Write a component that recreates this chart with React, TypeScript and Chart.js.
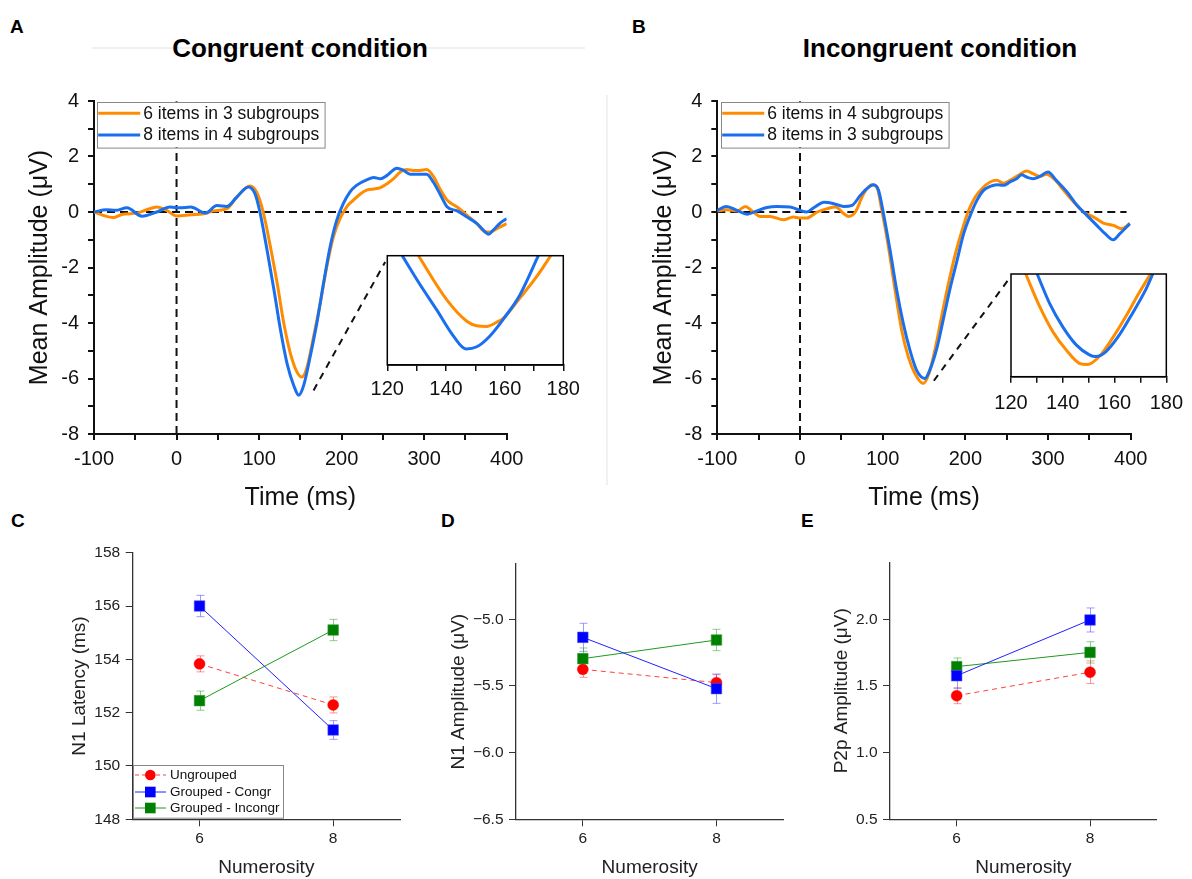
import React, { useEffect, useRef } from 'react';
import { Chart, registerables } from 'chart.js';

Chart.register(...registerables);

const FONT = "'Liberation Sans', Arial, Helvetica, sans-serif";
Chart.defaults.font.family = FONT;

const ORANGE = '#FF8C00';
const BLUE = '#1A6FEF';

// ---------- Panel A: Congruent condition ----------
const A_LABELS = ['6 items in 3 subgroups', '8 items in 4 subgroups'];
const A_T_ORANGE = [-100, -89, -77, -65, -48, -36, -24, -12, 0, 17, 33, 45, 61, 73, 89, 97, 105, 113, 122, 130, 138, 146, 152, 158, 166, 174, 182, 190, 198, 206, 214, 223, 231, 239, 247, 255, 263, 271, 279, 287, 295, 303, 311, 319, 328, 340, 352, 364, 374, 380, 388, 400];
const A_V_ORANGE = [0, -0.12, -0.2, -0.08, -0.04, 0.08, 0.18, 0.06, -0.14, -0.1, -0.06, 0.04, 0.12, 0.54, 0.94, 0.72, 0, -1.14, -2.58, -4.02, -5.1, -5.77, -5.95, -5.6, -4.5, -3.3, -1.98, -0.9, -0.24, 0.18, 0.42, 0.66, 0.8, 0.83, 0.88, 1.02, 1.2, 1.44, 1.53, 1.5, 1.5, 1.53, 1.29, 0.84, 0.42, 0.18, -0.12, -0.42, -0.72, -0.72, -0.6, -0.42];
const A_T_BLUE = [-100, -85, -74, -60, -42, -24, -8, 4, 17, 35, 49, 61, 73, 87, 95, 101, 109, 118, 126, 134, 142, 148, 154, 162, 170, 178, 186, 194, 202, 210, 218, 231, 239, 247, 255, 267, 275, 283, 291, 303, 311, 319, 328, 340, 352, 364, 374, 378, 384, 392, 400];
const A_V_BLUE = [0, 0.08, 0.06, 0.15, -0.15, 0, 0.18, 0.15, 0.18, -0.04, 0.23, 0.2, 0.54, 0.9, 0.66, 0, -1.26, -2.8, -4.26, -5.47, -6.25, -6.6, -6.25, -5.2, -4.0, -2.58, -1.26, -0.3, 0.3, 0.72, 0.96, 1.17, 1.24, 1.2, 1.32, 1.58, 1.5, 1.36, 1.36, 1.36, 1.08, 0.66, 0.18, 0.04, -0.18, -0.42, -0.72, -0.8, -0.64, -0.4, -0.24];
// inset A (zoom 120-180 ms)
const A_IN_T_ORANGE = [130.6, 140.3, 147.1, 150.5, 153.9, 157.3, 159.6, 165.2, 170.9, 175.7];
const A_IN_V_ORANGE = [-3.9, -5.16, -5.77, -5.9, -5.92, -5.8, -5.68, -5.11, -4.5, -3.9];
const A_IN_T_BLUE = [125.1, 131.2, 136.8, 142.5, 146.8, 150.5, 155.0, 160.1, 165.2, 171.5];
const A_IN_V_BLUE = [-3.9, -4.73, -5.44, -6.19, -6.56, -6.5, -6.19, -5.65, -5.02, -3.9];
const A_IN_Y = [-7.02, -3.9];
const A_CONNECTOR = [{ x: 166, y: -6.43 }, { x: 252.8, y: -1.8 }];

// ---------- Panel B: Incongruent condition ----------
const B_LABELS = ['6 items in 4 subgroups', '8 items in 3 subgroups'];
const B_T_ORANGE = [-100, -89, -76, -66, -58, -48, -36, -20, -8, 0, 8, 21, 33, 43, 53, 59, 67, 77, 87, 93, 99, 107, 115, 123, 131, 139, 149, 156, 164, 172, 180, 188, 196, 204, 212, 220, 230, 238, 246, 254, 264, 274, 282, 290, 298, 307, 319, 331, 343, 355, 367, 379, 389, 399];
const B_V_ORANGE = [0.04, 0.08, 0.04, 0.2, 0.04, -0.16, -0.16, -0.28, -0.18, -0.22, -0.22, 0, 0.12, 0.18, -0.06, -0.16, 0, 0.66, 0.98, 0.9, 0.06, -1.26, -2.82, -4.26, -5.22, -5.82, -6.18, -5.82, -4.86, -3.66, -2.52, -1.5, -0.66, 0.06, 0.54, 0.84, 1.08, 1.14, 1.04, 1.14, 1.32, 1.48, 1.38, 1.28, 1.36, 1.2, 0.78, 0.36, 0, -0.18, -0.4, -0.48, -0.6, -0.42];
const B_T_BLUE = [-100, -89, -76, -64, -52, -40, -28, -12, 0, 8, 17, 29, 41, 53, 63, 73, 81, 89, 95, 101, 109, 117, 125, 133, 141, 151, 157, 166, 174, 182, 190, 198, 206, 214, 222, 230, 238, 246, 254, 262, 268, 274, 282, 290, 300, 310, 323, 335, 347, 359, 369, 379, 387, 399];
const B_V_BLUE = [0.06, 0.2, 0.06, -0.08, 0.04, 0.16, 0.2, 0.18, 0.06, 0, 0.16, 0.35, 0.3, 0.2, 0.24, 0.6, 0.84, 0.98, 0.78, -0.06, -1.38, -2.82, -4.02, -4.98, -5.7, -6.0, -5.7, -4.86, -3.78, -2.7, -1.74, -0.78, -0.12, 0.42, 0.78, 0.92, 0.98, 0.96, 1.08, 1.2, 1.34, 1.26, 1.2, 1.28, 1.44, 1.14, 0.72, 0.24, -0.12, -0.48, -0.78, -1.0, -0.78, -0.42];
const B_IN_T_ORANGE = [125.7, 131.1, 136.2, 141.3, 146.4, 149.6, 154.1, 159.2, 164.3, 169.4, 173.9];
const B_IN_V_ORANGE = [-4.0, -4.78, -5.38, -5.81, -6.13, -6.16, -5.97, -5.53, -5.02, -4.46, -4.0];
const B_IN_T_BLUE = [130.1, 134.9, 140, 145.2, 150.3, 152.8, 156.7, 161.8, 166.9, 172, 174.8];
const B_IN_V_BLUE = [-4.0, -4.7, -5.26, -5.69, -5.93, -5.97, -5.85, -5.46, -4.94, -4.38, -4.0];
const B_IN_Y = [-6.45, -4.0];
const B_CONNECTOR = [{ x: 161.9, y: -6.08 }, { x: 254.8, y: -2.33 }];

const ZERO_LINE = [{ x: -100, y: 0 }, { x: 395, y: 0 }];
const ONSET_LINE = [{ x: 0, y: -8 }, { x: 0, y: 4 }];

// ---------- Panels C, D, E ----------
const NUMEROSITY = [6, 8];
const SERIES = ['Ungrouped', 'Grouped - Congr', 'Grouped - Incongr'];

const C_UNGROUPED = [153.83, 152.29];
const C_UNGROUPED_ERR = [0.3, 0.3];
const C_CONGR = [156.0, 151.35];
const C_CONGR_ERR = [0.4, 0.35];
const C_INCONGR = [152.45, 155.1];
const C_INCONGR_ERR = [0.36, 0.4];
const C_YTICKS = [148, 150, 152, 154, 156, 158];

const D_UNGROUPED = [-5.375, -5.475];
const D_UNGROUPED_ERR = [0.06, 0.06];
const D_CONGR = [-5.135, -5.52];
const D_CONGR_ERR = [0.105, 0.11];
const D_INCONGR = [-5.295, -5.155];
const D_INCONGR_ERR = [0.08, 0.08];
const D_YTICKS = [-6.5, -6.0, -5.5, -5.0];

const E_UNGROUPED = [1.427, 1.603];
const E_UNGROUPED_ERR = [0.06, 0.085];
const E_CONGR = [1.577, 1.995];
const E_CONGR_ERR = [0.095, 0.09];
const E_INCONGR = [1.645, 1.752];
const E_INCONGR_ERR = [0.065, 0.08];
const E_YTICKS = [0.5, 1.0, 1.5, 2.0];

// ---------- helpers ----------
const zip = (xs: number[], ys: number[]) => xs.map((x, i) => ({ x, y: ys[i] }));

function makeLegendPlugin(cfg: any) {
  return {
    id: 'boxLegend',
    afterDatasetsDraw(chart: any) {
      const { ctx, chartArea } = chart;
      const bx = chartArea.left + cfg.dx;
      const by = chartArea.top + cfg.dy;
      ctx.save();
      ctx.fillStyle = '#fff';
      ctx.fillRect(bx, by, cfg.w, cfg.h);
      ctx.strokeStyle = cfg.border;
      ctx.lineWidth = 1;
      ctx.strokeRect(Math.round(bx) + 0.5, Math.round(by) + 0.5, cfg.w, cfg.h);
      cfg.rows.forEach((r: any, i: number) => {
        const cy = by + cfg.rowY[i];
        ctx.strokeStyle = r.color;
        ctx.lineWidth = r.lineWidth;
        ctx.setLineDash(r.dash || []);
        ctx.beginPath();
        ctx.moveTo(bx + cfg.lineX0, cy);
        ctx.lineTo(bx + cfg.lineX1, cy);
        ctx.stroke();
        ctx.setLineDash([]);
        const mx = bx + cfg.markerX;
        if (r.marker === 'circle') {
          ctx.fillStyle = r.fill;
          ctx.beginPath();
          ctx.arc(mx, cy, 5.3, 0, Math.PI * 2);
          ctx.fill();
        } else if (r.marker === 'rect') {
          ctx.fillStyle = r.fill;
          ctx.fillRect(mx - 5.3, cy - 5.3, 10.6, 10.6);
        }
        ctx.fillStyle = '#111';
        ctx.font = `${cfg.fontSize}px ${FONT}`;
        ctx.textBaseline = 'middle';
        ctx.textAlign = 'left';
        ctx.fillText(r.label, bx + cfg.textX, cy + 0.5);
      });
      ctx.restore();
    },
  };
}

const errorBarPlugin = {
  id: 'errorBars',
  beforeDatasetsDraw(chart: any) {
    const { ctx } = chart;
    const ys = chart.scales.y;
    chart.data.datasets.forEach((ds: any, i: number) => {
      if (!ds.errors) return;
      const meta = chart.getDatasetMeta(i);
      ctx.save();
      ctx.strokeStyle = ds.errorColor;
      ctx.lineWidth = 1;
      meta.data.forEach((el: any, j: number) => {
        const v = ds.data[j].y;
        const e = ds.errors[j];
        const x = Math.round(el.x) + 0.5;
        const y1 = ys.getPixelForValue(v + e);
        const y2 = ys.getPixelForValue(v - e);
        ctx.beginPath();
        ctx.moveTo(x, y1);
        ctx.lineTo(x, y2);
        ctx.moveTo(x - 4, y1);
        ctx.lineTo(x + 4, y1);
        ctx.moveTo(x - 4, y2);
        ctx.lineTo(x + 4, y2);
        ctx.stroke();
      });
      ctx.restore();
    });
  },
};

const framePlugin = {
  id: 'frame',
  afterDraw(chart: any) {
    const { ctx, chartArea: a } = chart;
    ctx.save();
    ctx.strokeStyle = '#000';
    ctx.lineWidth = 1.5;
    ctx.strokeRect(a.left, a.top, a.right - a.left, a.bottom - a.top);
    ctx.restore();
  },
};

function erpConfig(p: any) {
  const refLine = (data: any[], dash: number[]) => ({
    data,
    borderColor: '#111',
    borderWidth: 2,
    borderDash: dash,
    pointRadius: 0,
    order: 5,
  });
  return {
    type: 'line',
    data: {
      datasets: [
        { label: p.labels[0], data: p.orange, borderColor: ORANGE, borderWidth: 3, pointRadius: 0, cubicInterpolationMode: 'monotone', order: 2 },
        { label: p.labels[1], data: p.blue, borderColor: BLUE, borderWidth: 3, pointRadius: 0, cubicInterpolationMode: 'monotone', order: 1 },
        refLine(ZERO_LINE, [8, 5]),
        refLine(ONSET_LINE, [8, 5]),
        refLine(p.connector, [7, 6]),
      ],
    },
    options: {
      animation: false,
      responsive: false,
      devicePixelRatio: 1,
      events: [],
      layout: { padding: { left: 0, top: p.padTop, right: p.padRight, bottom: 0 } },
      plugins: { legend: { display: false }, tooltip: { enabled: false } },
      scales: {
        x: {
          type: 'linear',
          min: -100,
          max: 400,
          afterFit: (s: any) => { s.height = p.xAxisH; },
          ticks: {
            stepSize: 50,
            autoSkip: false,
            maxRotation: 0,
            padding: 7,
            color: '#111',
            font: { size: 20, family: FONT },
            callback: (v: any) => (Number(v) % 100 === 0 ? String(v) : ''),
          },
          grid: { drawOnChartArea: false, drawTicks: true, tickLength: 6, color: '#111', lineWidth: 2 },
          border: { display: true, color: '#111', width: 2 },
          title: { display: true, text: 'Time (ms)', color: '#111', font: { size: 25, family: FONT }, padding: { top: 0, bottom: 7 } },
        },
        y: {
          type: 'linear',
          min: -8,
          max: 4,
          afterFit: (s: any) => { s.width = p.yAxisW; },
          ticks: {
            stepSize: 1,
            autoSkip: false,
            padding: 9,
            color: '#111',
            font: { size: 20, family: FONT },
            callback: (v: any) => (Number(v) % 2 === 0 ? String(v) : ''),
          },
          grid: { drawOnChartArea: false, drawTicks: true, tickLength: 6, color: '#111', lineWidth: 2 },
          border: { display: true, color: '#111', width: 2 },
          title: { display: true, text: 'Mean Amplitude (μV)', color: '#111', font: { size: 25, family: FONT }, padding: { top: p.yTitlePad, bottom: 0 } },
        },
      },
    },
    plugins: [
      makeLegendPlugin({
        dx: p.legendDx, dy: 0.7, w: 227.6, h: 45.6, rowY: [11.6, 33.3], lineX0: 1.5, lineX1: 43.5, markerX: 0, textX: 46.5,
        fontSize: 17.5, border: '#888',
        rows: [
          { label: p.labels[0], color: ORANGE, lineWidth: 3 },
          { label: p.labels[1], color: BLUE, lineWidth: 3 },
        ],
      }),
    ],
  };
}

function insetConfig(p: any) {
  return {
    type: 'line',
    data: {
      datasets: [
        { data: p.orange, borderColor: ORANGE, borderWidth: 3, pointRadius: 0, cubicInterpolationMode: 'monotone', order: 2 },
        { data: p.blue, borderColor: BLUE, borderWidth: 3, pointRadius: 0, cubicInterpolationMode: 'monotone', order: 1 },
      ],
    },
    options: {
      animation: false,
      responsive: false,
      devicePixelRatio: 1,
      events: [],
      layout: { padding: { left: p.padLeft, top: p.padTop, right: p.padRight, bottom: 0 } },
      plugins: { legend: { display: false }, tooltip: { enabled: false } },
      scales: {
        x: {
          type: 'linear',
          min: 120,
          max: 180,
          afterFit: (s: any) => { s.height = p.xAxisH; },
          ticks: {
            stepSize: 10,
            autoSkip: false,
            maxRotation: 0,
            padding: p.tickPad,
            color: '#111',
            font: { size: 20, family: FONT },
            callback: (v: any) => (Number(v) % 20 === 0 ? String(v) : ''),
          },
          grid: { drawOnChartArea: false, drawTicks: true, tickLength: 6, color: '#111', lineWidth: 1.5 },
          border: { display: true, color: '#111', width: 1.5 },
        },
        y: { type: 'linear', display: false, min: p.yRange[0], max: p.yRange[1] },
      },
    },
    plugins: [framePlugin],
  };
}

function statConfig(p: any) {
  const mk = (label: string, vals: number[], errs: number[], style: any) => ({
    label,
    data: zip(NUMEROSITY, vals),
    errors: errs,
    ...style,
  });
  const axisText = '#222';
  return {
    type: 'line',
    data: {
      datasets: [
        mk(SERIES[0], p.red, p.redErr, {
          borderColor: '#FF4040', borderWidth: 1, borderDash: [5, 4], pointStyle: 'circle', pointRadius: 5.5,
          pointBackgroundColor: '#FF0000', pointBorderColor: 'rgba(255,0,0,0.45)', pointBorderWidth: 1,
          errorColor: 'rgba(255,60,60,0.55)', order: 3,
        }),
        mk(SERIES[1], p.blue, p.blueErr, {
          borderColor: '#2020FF', borderWidth: 1, pointStyle: 'rect', pointRadius: 7.5,
          pointBackgroundColor: '#0000FF', pointBorderColor: 'rgba(90,90,255,0.55)', pointBorderWidth: 1,
          errorColor: 'rgba(90,90,255,0.6)', order: 1,
        }),
        mk(SERIES[2], p.green, p.greenErr, {
          borderColor: '#1E9A1E', borderWidth: 1, pointStyle: 'rect', pointRadius: 7.5,
          pointBackgroundColor: '#008000', pointBorderColor: 'rgba(60,160,60,0.55)', pointBorderWidth: 1,
          errorColor: 'rgba(60,160,60,0.55)', order: 2,
        }),
      ],
    },
    options: {
      animation: false,
      responsive: false,
      devicePixelRatio: 1,
      events: [],
      layout: { padding: { left: 0, top: p.padTop, right: p.padRight, bottom: 0 } },
      plugins: { legend: { display: false }, tooltip: { enabled: false } },
      scales: {
        x: {
          type: 'linear',
          min: 5,
          max: 9,
          afterFit: (s: any) => { s.height = p.xAxisH; },
          afterBuildTicks: (s: any) => { s.ticks = NUMEROSITY.map((value) => ({ value })); },
          ticks: { autoSkip: false, maxRotation: 0, padding: 3, color: axisText, font: { size: 15.5, family: FONT } },
          grid: { drawOnChartArea: false, drawTicks: true, tickLength: 7, color: '#333', lineWidth: 1 },
          border: { display: true, color: '#333', width: 1.3 },
          title: { display: true, text: 'Numerosity', color: axisText, font: { size: 19, family: FONT }, padding: { top: 0, bottom: 0 } },
        },
        y: {
          type: 'linear',
          min: p.yMin,
          max: p.yMax,
          afterFit: (s: any) => { s.width = p.yAxisW; },
          afterBuildTicks: (s: any) => { s.ticks = p.yTicks.map((value: number) => ({ value })); },
          ticks: { autoSkip: false, padding: 5.5, color: axisText, font: { size: 15.5, family: FONT }, callback: p.fmt },
          grid: { drawOnChartArea: false, drawTicks: true, tickLength: 7, color: '#333', lineWidth: 1 },
          border: { display: true, color: '#333', width: 1.3 },
          title: { display: true, text: p.yTitle, color: axisText, font: { size: 19, family: FONT }, padding: { top: p.yTitlePad, bottom: 0 } },
        },
      },
    },
    plugins: [errorBarPlugin, ...(p.legend ? [makeLegendPlugin(p.legend)] : [])],
  };
}

function ChartBox({ left, top, width, height, make }: any) {
  const ref = useRef<HTMLCanvasElement | null>(null);
  useEffect(() => {
    if (!ref.current) return;
    const chart = new Chart(ref.current, make());
    return () => chart.destroy();
  }, []);
  return (
    <canvas
      ref={ref}
      width={width}
      height={height}
      style={{ position: 'absolute', left, top, width, height, display: 'block' }}
    />
  );
}

function Txt({ x, baseline, size, bold, center, children }: any) {
  const style: any = {
    position: 'absolute',
    top: baseline - 0.92 * size,
    fontFamily: FONT,
    fontSize: size,
    fontWeight: bold ? 700 : 400,
    lineHeight: 'normal',
    whiteSpace: 'nowrap',
    color: '#000',
  };
  if (center) {
    style.left = x - 300;
    style.width = 600;
    style.textAlign = 'center';
  } else {
    style.left = x;
  }
  return <div style={style}>{children}</div>;
}

const fmtInt = (v: any) => String(v);
const fmtSigned1 = (v: any) => {
  const n = Number(v);
  return (n < 0 ? '\u2212' : '') + Math.abs(n).toFixed(1);
};

export default function App() {
  return (
    <div style={{ position: 'absolute', left: 0, top: 0, width: 1192, height: 879, overflow: 'hidden', background: '#fff' }}>
      <div style={{ position: 'absolute', left: 92, top: 47, width: 493, height: 2, background: '#f1f1f1' }} />
      <div style={{ position: 'absolute', left: 606, top: 95, width: 2, height: 390, background: '#f1f1f1' }} />

      <Txt x={10} baseline={33} size={19} bold>A</Txt>
      <Txt x={632} baseline={33} size={19} bold>B</Txt>
      <Txt x={11} baseline={527} size={19} bold>C</Txt>
      <Txt x={441} baseline={527} size={19} bold>D</Txt>
      <Txt x={801} baseline={527} size={19} bold>E</Txt>
      <Txt x={300} baseline={57} size={26} bold center>Congruent condition</Txt>
      <Txt x={940} baseline={57} size={26} bold center>Incongruent condition</Txt>

      <ChartBox
        left={0} top={60} width={600} height={460}
        make={() => erpConfig({
          labels: A_LABELS,
          orange: zip(A_T_ORANGE, A_V_ORANGE),
          blue: zip(A_T_BLUE, A_V_BLUE),
          connector: A_CONNECTOR,
          padTop: 41, padRight: 93.3, yAxisW: 94, xAxisH: 86, yTitlePad: 25, legendDx: 2.7,
        })}
      />
      <ChartBox
        left={620} top={60} width={572} height={460}
        make={() => erpConfig({
          labels: B_LABELS,
          orange: zip(B_T_ORANGE, B_V_ORANGE),
          blue: zip(B_T_BLUE, B_V_BLUE),
          connector: B_CONNECTOR,
          padTop: 41, padRight: 61.3, yAxisW: 97.3, xAxisH: 86, yTitlePad: 29, legendDx: 3.4,
        })}
      />
      <ChartBox
        left={360} top={240} width={230} height={180}
        make={() => insetConfig({
          orange: zip(A_IN_T_ORANGE, A_IN_V_ORANGE),
          blue: zip(A_IN_T_BLUE, A_IN_V_BLUE),
          yRange: A_IN_Y,
          padLeft: 27.3, padTop: 15.7, padRight: 26.7, xAxisH: 55, tickPad: 6,
        })}
      />
      <ChartBox
        left={985} top={258} width={207} height={180}
        make={() => insetConfig({
          orange: zip(B_IN_T_ORANGE, B_IN_V_ORANGE),
          blue: zip(B_IN_T_BLUE, B_IN_V_BLUE),
          yRange: B_IN_Y,
          padLeft: 26, padTop: 16, padRight: 24.3, xAxisH: 61.3, tickPad: 9,
        })}
      />

      <ChartBox
        left={0} top={530} width={420} height={349}
        make={() => statConfig({
          red: C_UNGROUPED, redErr: C_UNGROUPED_ERR,
          blue: C_CONGR, blueErr: C_CONGR_ERR,
          green: C_INCONGR, greenErr: C_INCONGR_ERR,
          yMin: 148, yMax: 158, yTicks: C_YTICKS, fmt: fmtInt,
          yTitle: 'N1 Latency (ms)',
          padTop: 22.7, padRight: 20, yAxisW: 132.7, xAxisH: 59.7, yTitlePad: 68.6,
          legend: {
            dx: 0.3, dy: 212.6, w: 150, h: 52.7, rowY: [9.7, 26.7, 42.7], lineX0: 2, lineX1: 33, markerX: 17.3, textX: 37,
            fontSize: 13.5, border: '#888',
            rows: [
              { label: SERIES[0], color: '#FF4040', lineWidth: 1, dash: [4, 3], marker: 'circle', fill: '#FF0000' },
              { label: SERIES[1], color: '#2020FF', lineWidth: 1, marker: 'rect', fill: '#0000FF' },
              { label: SERIES[2], color: '#1E9A1E', lineWidth: 1, marker: 'rect', fill: '#008000' },
            ],
          },
        })}
      />
      <ChartBox
        left={430} top={530} width={370} height={349}
        make={() => statConfig({
          red: D_UNGROUPED, redErr: D_UNGROUPED_ERR,
          blue: D_CONGR, blueErr: D_CONGR_ERR,
          green: D_INCONGR, greenErr: D_INCONGR_ERR,
          yMin: -6.5, yMax: -4.585, yTicks: D_YTICKS, fmt: fmtSigned1,
          yTitle: 'N1 Amplitude (μV)',
          padTop: 34, padRight: 16.7, yAxisW: 86, xAxisH: 59.7, yTitlePad: 16.9,
        })}
      />
      <ChartBox
        left={800} top={530} width={392} height={349}
        make={() => statConfig({
          red: E_UNGROUPED, redErr: E_UNGROUPED_ERR,
          blue: E_CONGR, blueErr: E_CONGR_ERR,
          green: E_INCONGR, greenErr: E_INCONGR_ERR,
          yMin: 0.5, yMax: 2.4275, yTicks: E_YTICKS, fmt: fmtSigned1,
          yTitle: 'P2p Amplitude (μV)',
          padTop: 32.3, padRight: 35.3, yAxisW: 90, xAxisH: 59.7, yTitlePad: 30.3,
        })}
      />
    </div>
  );
}
